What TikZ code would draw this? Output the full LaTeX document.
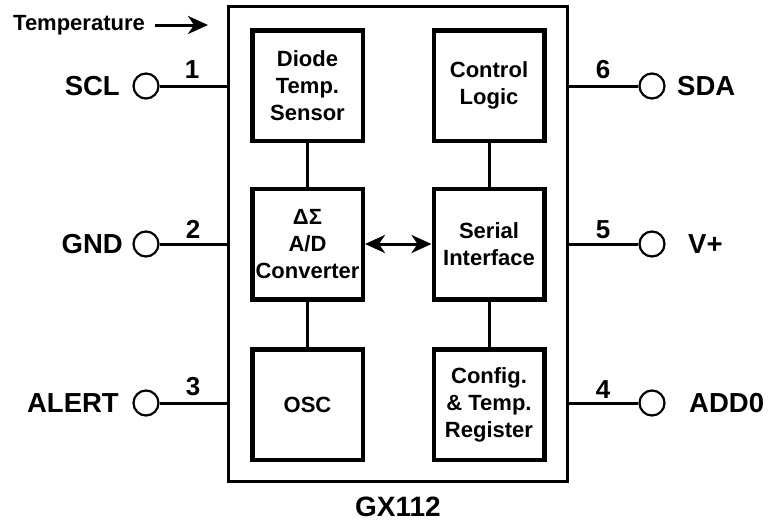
\documentclass[tikz,border=0pt]{standalone}
\usepackage{fontspec}
\setmainfont{Liberation Sans}
\usetikzlibrary{arrows.meta}
\tikzset{
  block/.style={draw, line width=4.5pt, minimum width=110.5pt, minimum height=110.5pt,
    align=center, inner sep=0pt, font=\bfseries\fontsize{22}{27}\selectfont},
  pin/.style={draw, circle, line width=2.2pt, minimum size=25pt, inner sep=0pt},
  pinname/.style={inner sep=0pt, font=\bfseries\fontsize{27.5}{30}\selectfont},
  pinno/.style={inner sep=0pt, anchor=base, font=\bfseries\fontsize{26}{30}\selectfont},
  wire/.style={line width=3pt},
  head/.tip={Stealth[length=20pt,width=18pt,inset=6pt]},
  tip/.style={-head},
  bitip/.style={head-head}
}
\begin{document}
\begin{tikzpicture}[x=1pt,y=-1pt]
      \useasboundingbox (0,0) rectangle (770,522);
      % package outline
      \node (chip) [draw, line width=3pt, minimum width=339pt, minimum height=475pt] at (398,244) {};
      \node (part) [inner sep=0pt, font=\bfseries\fontsize{28}{30}\selectfont] at (398,507) {GX112};
      % inner blocks
      \node (diode)  [block] at (307.5,85.5) {Diode\\Temp.\\Sensor};
      \node (adc)    [block] at (307.5,244) {ΔΣ\\A/D\\Converter};
      \node (osc)    [block] at (307.5,404.5) {OSC};
      \node (ctrl)   [block] at (489,85.5) {Control\\Logic};
      \node (serial) [block] at (489,244) {Serial\\Interface};
      \node (config) [block] at (489,404.5) {Config.\\\&~Temp.\\Register};
      \begin{scope}[wire]
        \draw (diode) to (adc);
        \draw (adc) to (osc);
        \draw (ctrl) to (serial);
        \draw (serial) to (config);
        \draw [bitip] (adc) to (serial);
      \end{scope}
      % temperature input
      \node (temp) [anchor=west, inner sep=0pt, font=\bfseries\fontsize{22}{26}\selectfont] at (13,25) {Temperature};
      \coordinate (temptip) at (208,25);
      \draw [wire, tip] ([xshift=10pt]temp.east) -- (temptip);
      % left pins
      \node (p1) [pin] at (146,86) {};
      \node (p2) [pin] at (146,244) {};
      \node (p3) [pin] at (146,403) {};
      \node (scl)   [pinname, anchor=east] at (120,86) {SCL};
      \node (gnd)   [pinname, anchor=east] at (123,244) {GND};
      \node (alert) [pinname, anchor=east] at (119,403) {ALERT};
      \node (n1) [pinno] at (192,78) {1};
      \node (n2) [pinno] at (193,238) {2};
      \node (n3) [pinno] at (193,395) {3};
      % right pins
      \node (p6) [pin] at (652,86) {};
      \node (p5) [pin] at (652,244) {};
      \node (p4) [pin] at (652,403) {};
      \node (sda)  [pinname, anchor=west] at (677,86) {SDA};
      \node (vplus)[pinname, anchor=west] at (688,244) {V+};
      \node (add)  [pinname, anchor=west] at (689,403) {ADD0};
      \node (n6) [pinno] at (603,78) {6};
      \node (n5) [pinno] at (603,238) {5};
      \node (n4) [pinno] at (603,398) {4};
      \begin{scope}[wire]
        \draw (p1) to (p1 -| chip.west);
        \draw (p2) to (p2 -| chip.west);
        \draw (p3) to (p3 -| chip.west);
        \draw (p6) to (p6 -| chip.east);
        \draw (p5) to (p5 -| chip.east);
        \draw (p4) to (p4 -| chip.east);
      \end{scope}
    \end{tikzpicture}
\end{document}
